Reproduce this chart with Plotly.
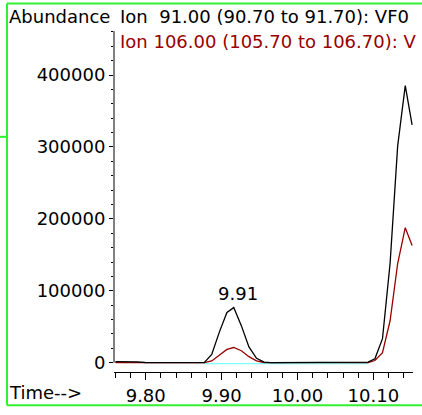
import plotly.graph_objects as go

# retention time (min) and abundance of the two extracted ions
times = [9.760, 9.770, 9.780, 9.789, 9.799, 9.809, 9.819, 9.828, 9.838, 9.848,
         9.858, 9.868, 9.877, 9.887, 9.897, 9.907, 9.916, 9.926, 9.936, 9.946,
         9.956, 9.965, 9.975, 9.985, 9.995, 10.005, 10.014, 10.024, 10.034, 10.044,
         10.053, 10.063, 10.073, 10.083, 10.093, 10.102, 10.112, 10.122, 10.132, 10.142,
         10.151]
ion91 = [1500, 1600, 1500, 1200, 300, 0, 0, 0, 0, 0,
         0, 0, 0, 11500, 42500, 69800, 76600, 51500, 22000, 6100,
         700, 0, 0, 0, 0, 0, 0, 0, 0, 0,
         0, 0, 0, 0, 800, 5500, 33400, 137900, 301400, 385300,
         330800]
ion106 = [0, 0, 0, 0, 0, 0, 0, 0, 0, 0,
          0, 0, 0, 2500, 10000, 18500, 21100, 16600, 8400, 2500,
          300, 0, 0, 0, 0, 0, 0, 0, 0, 0,
          0, 0, 0, 0, 0, 3000, 13900, 58300, 137900, 187700,
          162800]
peak_label = "9.91"
peak_index = 16
# integration baseline (sits just under the traces)
baseline_times = [9.877, 10.093]
baseline_vals = [-1300, -1300]

title1 = "Ion\u00a0 91.00 (90.70 to 91.70): VF0"
title2 = "Ion 106.00 (105.70 to 106.70): V"

W, H = 422, 415
L, R, T, B = 114, 9, 31, 36
FONT = "DejaVu Sans, sans-serif"
FS = 18
GREEN = "#33f033"
RED = "#990000"


def px2x(px):
    return (px - L) / (W - L - R)


def py2y(py):
    return (H - B - py) / (H - T - B)


fig = go.Figure()
fig.add_trace(go.Scatter(x=baseline_times, y=baseline_vals, mode="lines",
                         line=dict(color="#80ffff", width=1.3), showlegend=False))
fig.add_trace(go.Scatter(x=times, y=ion106, mode="lines",
                         line=dict(color=RED, width=1.3), showlegend=False))
fig.add_trace(go.Scatter(x=times, y=ion91, mode="lines",
                         line=dict(color="black", width=1.3), showlegend=False))

# peak label
fig.add_annotation(x=times[peak_index], y=ion91[peak_index], text=peak_label,
                   showarrow=False, xanchor="center", yanchor="middle",
                   xshift=4, yshift=14, font=dict(size=FS, color="black", family=FONT))

# header texts
fig.add_annotation(x=px2x(7), y=py2y(16.5), xref="paper", yref="paper", text="Abundance",
                   showarrow=False, xanchor="left", yanchor="middle",
                   font=dict(size=FS, color="black", family=FONT))
fig.add_annotation(x=px2x(118), y=py2y(16.5), xref="paper", yref="paper", text=title1,
                   showarrow=False, xanchor="left", yanchor="middle",
                   font=dict(size=FS, color="black", family=FONT))
fig.add_annotation(x=px2x(118), y=py2y(42), xref="paper", yref="paper", text=title2,
                   showarrow=False, xanchor="left", yanchor="middle",
                   font=dict(size=FS, color=RED, family=FONT))
fig.add_annotation(x=px2x(7), y=py2y(400), xref="paper", yref="paper", text="Time-->",
                   showarrow=False, xanchor="left", yanchor="middle",
                   font=dict(size=FS, color="black", family=FONT))

# y axis line from zero upward
fig.add_shape(type="line", xref="paper", yref="y", x0=0, x1=0, y0=0, y1=461000,
              line=dict(color="black", width=1))

# green frame
for x0, y0, x1, y1 in [(7, 3, 422, 3), (7, 413, 422, 413), (7, 3, 7, 413), (0, 139, 7, 139)]:
    fig.add_shape(type="line", xref="paper", yref="paper",
                  x0=px2x(x0), x1=px2x(x1), y0=py2y(y0), y1=py2y(y1),
                  line=dict(color=GREEN, width=2))

fig.update_xaxes(range=[9.7582, 10.1522], tickvals=[9.80, 9.90, 10.00, 10.10],
                 ticktext=["9.80", "9.90", "10.00", "10.10"],
                 ticks="outside", ticklen=7, tickcolor="black", tickwidth=1,
                 minor=dict(dtick=0.02, tick0=9.76, ticks="outside", ticklen=5, tickcolor="black"),
                 showline=True, linecolor="black", linewidth=1,
                 showgrid=False, zeroline=False,
                 tickfont=dict(size=FS, color="black", family=FONT))
fig.update_yaxes(range=[-12940, 461180], tickvals=[0, 100000, 200000, 300000, 400000],
                 ticktext=["0", "100000", "200000", "300000", "400000"],
                 ticks="outside", ticklen=4, tickcolor="black", tickwidth=1,
                 minor=dict(dtick=20000, tick0=0, ticks="outside", ticklen=2, tickcolor="black"),
                 showline=False, showgrid=False, zeroline=False,
                 tickfont=dict(size=FS, color="black", family=FONT))

fig.update_layout(width=W, height=H, margin=dict(l=L, r=R, t=T, b=B),
                  plot_bgcolor="white", paper_bgcolor="white", showlegend=False)

page_css = ("var s=document.createElement('style');"
            "s.textContent='html,body{margin:0;padding:0;height:415px;overflow:hidden}';"
            "document.head.appendChild(s);")
fig.write_html("out.html", config={"displayModeBar": False}, post_script=page_css)
